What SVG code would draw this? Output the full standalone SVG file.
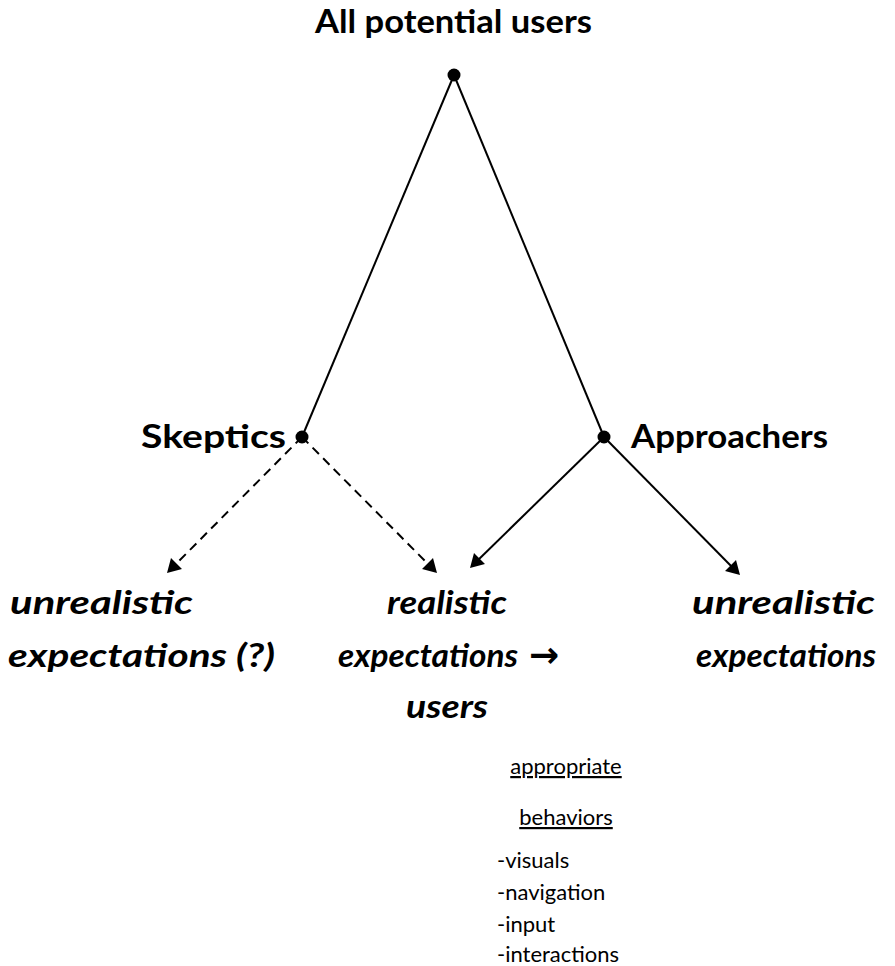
<svg xmlns="http://www.w3.org/2000/svg" width="895" height="966" viewBox="0 0 895 966">
<defs>
<style>
.t{font-family:Lato,"Open Sans",sans-serif;fill:#000}
.b{font-weight:bold;font-size:33px}
.bi{font-weight:bold;font-style:italic;font-size:33px}
.n{font-family:Lato,"Open Sans",sans-serif;font-size:22px;fill:#000}
.e{stroke:#000;stroke-width:2;fill:none}
.d{stroke-dasharray:9,6}
</style>
</defs>
<rect width="895" height="966" fill="#fff"/>
<g id="connectors">
<line class="e" x1="454" y1="75" x2="302" y2="437"/>
<line class="e" x1="454" y1="75" x2="604" y2="437"/>
<line class="e d" x1="302" y1="437" x2="172" y2="568"/>
<line class="e d" x1="302" y1="437" x2="432" y2="568"/>
<line class="e" x1="604" y1="437" x2="475" y2="563"/>
<line class="e" x1="604" y1="437" x2="735" y2="570"/>
<path d="M167,573 l4,-15 l11,11 z M437,573 l-15,-4 l11,-11 z M470,568 l4,-15 l11,11 z M740,575 l-15,-4 l11,-11 z" fill="#000"/>
</g>
<g id="n-all">
<circle cx="454" cy="75" r="6.5" fill="#000"/>
<text class="t b" x="315" y="33" textLength="277" lengthAdjust="spacingAndGlyphs">All potential users</text>
</g>
<g id="n-skeptics">
<circle cx="302" cy="437" r="6.5" fill="#000"/>
<text class="t b" x="141" y="448" textLength="145" lengthAdjust="spacingAndGlyphs">Skeptics</text>
</g>
<g id="n-approachers">
<circle cx="604" cy="437" r="6.5" fill="#000"/>
<text class="t b" x="631" y="448" textLength="197" lengthAdjust="spacingAndGlyphs">Approachers</text>
</g>
<g id="n-unreal-left">
<text class="t bi" x="10" y="614" textLength="183" lengthAdjust="spacingAndGlyphs">unrealistic</text>
<text class="t bi" x="8" y="667" textLength="267" lengthAdjust="spacingAndGlyphs">expectations (?)</text>
</g>
<g id="n-realistic">
<text class="t bi" x="387" y="614" textLength="120" lengthAdjust="spacingAndGlyphs">realistic</text>
<text class="t bi" x="338" y="667" textLength="180" lengthAdjust="spacingAndGlyphs">expectations</text>
<text x="529" y="667" font-family="'DejaVu Sans',sans-serif" font-weight="bold" font-size="36">→</text>
<text class="t bi" x="406" y="718" textLength="82" lengthAdjust="spacingAndGlyphs">users</text>
</g>
<g id="n-unreal-right">
<text class="t bi" x="692" y="614" textLength="183" lengthAdjust="spacingAndGlyphs">unrealistic</text>
<text class="t bi" x="696" y="667" textLength="180" lengthAdjust="spacingAndGlyphs">expectations</text>
</g>
<g id="n-behaviors">
<text class="n" x="566" y="774" text-anchor="middle" text-decoration="underline">appropriate</text>
<text class="n" x="566" y="825" text-anchor="middle" text-decoration="underline">behaviors</text>
<text class="n" x="497" y="868">-visuals</text>
<text class="n" x="497" y="900">-navigation</text>
<text class="n" x="497" y="932">-input</text>
<text class="n" x="497" y="962">-interactions</text>
</g>
</svg>
